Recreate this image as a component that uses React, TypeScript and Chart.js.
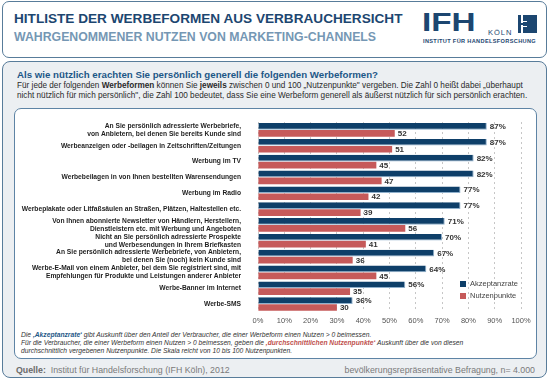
import React, { useEffect, useRef } from "react";
import { Chart, registerables } from "chart.js";

Chart.register(...registerables);

const categories: (string | string[])[] = [
  ["An Sie persönlich adressierte Werbebriefe,", "von Anbietern, bei denen Sie bereits Kunde sind"],
  "Werbeanzeigen oder -beilagen in Zeitschriften/Zeitungen",
  "Werbung im TV",
  "Werbebeilagen in von Ihnen bestellten Warensendungen",
  "Werbung im Radio",
  "Werbeplakate oder Litfaßsäulen an Straßen, Plätzen, Haltestellen etc.",
  ["Von Ihnen abonnierte Newsletter von Händlern, Herstellern,", "Dienstleistern etc. mit Werbung und Angeboten"],
  ["Nicht an Sie persönlich adressierte Prospekte", "und Werbesendungen in Ihrem Briefkasten"],
  ["An Sie persönlich adressierte Werbebriefe, von Anbietern,", "bei denen Sie (noch) kein Kunde sind"],
  ["Werbe-E-Mail von einem Anbieter, bei dem Sie registriert sind, mit", "Empfehlungen für Produkte und Leistungen anderer Anbieter"],
  "Werbe-Banner im Internet",
  "Werbe-SMS",
];

const akzeptanzrate = [87, 87, 82, 82, 77, 77, 71, 70, 67, 64, 56, 36];
const nutzenpunkte = [52, 51, 45, 47, 42, 39, 56, 41, 36, 45, 35, 30];

const seriesNames = ["Akzeptanzrate", "Nutzenpunkte"];
const xTicks = [0, 10, 20, 30, 40, 50, 60, 70, 80, 90, 100];

const NAVY = "#0e3f69";
const RED = "#c65a5a";
const FONT = '"Liberation Sans", Arial, Helvetica, sans-serif';

const valueLabels = {
  id: "valueLabels",
  afterDatasetsDraw(chart: any) {
    const ctx = chart.ctx;
    chart.data.datasets.forEach((ds: any, di: number) => {
      const meta = chart.getDatasetMeta(di);
      meta.data.forEach((bar: any, i: number) => {
        const v = ds.data[i];
        ctx.save();
        ctx.font = `bold 8px ${FONT}`;
        ctx.fillStyle = "#333";
        ctx.textBaseline = "middle";
        ctx.textAlign = "left";
        ctx.fillText(di === 0 ? `${v}%` : String(v), bar.x + 3, bar.y + 0.5);
        ctx.restore();
      });
    });
  },
};

function BarChart() {
  const ref = useRef<HTMLCanvasElement | null>(null);
  useEffect(() => {
    if (!ref.current) return;
    const chart = new Chart(ref.current, {
      type: "bar",
      data: {
        labels: categories,
        datasets: [
          {
            label: seriesNames[0],
            data: akzeptanzrate,
            backgroundColor: NAVY,
            borderColor: "#8fb0cc",
            borderWidth: { top: 0, right: 1, bottom: 1, left: 0 },
            borderSkipped: false,
            categoryPercentage: 0.88,
            barPercentage: 0.96,
          },
          {
            label: seriesNames[1],
            data: nutzenpunkte,
            backgroundColor: RED,
            borderWidth: 0,
            categoryPercentage: 0.88,
            barPercentage: 0.96,
          },
        ],
      },
      options: {
        indexAxis: "y",
        responsive: false,
        animation: false,
        layout: { padding: { top: 6, right: 14, bottom: 0, left: 0 } },
        plugins: {
          legend: { display: false },
          tooltip: { enabled: false },
        },
        scales: {
          x: {
            min: 0,
            max: 100,
            afterBuildTicks: (scale: any) => {
              scale.ticks = xTicks.map((v) => ({ value: v }));
            },
            afterFit: (scale: any) => {
              scale.height = 16;
            },
            ticks: {
              callback: (v: any) => `${v}%`,
              font: { family: FONT, size: 7.5 },
              color: "#555",
              padding: 4,
              maxRotation: 0,
            },
            grid: { color: "#b8b8b8", lineWidth: 0.8, drawTicks: false },
            border: { display: false, dash: [2, 3] },
          },
          y: {
            afterFit: (scale: any) => {
              scale.width = 243;
            },
            ticks: {
              font: { family: FONT, size: 6.7, weight: "bold", lineHeight: 1.2 },
              color: "#1e1e1e",
              padding: 9,
              autoSkip: false,
            },
            grid: { display: false },
            border: { display: false },
          },
        },
      },
      plugins: [valueLabels],
    } as any);
    return () => chart.destroy();
  }, []);
  return (
    <canvas
      ref={ref}
      width={520}
      height={220}
      style={{ position: "absolute", left: 15, top: 109, width: 520, height: 220 }}
    />
  );
}

const abs = (s: React.CSSProperties): React.CSSProperties => ({
  position: "absolute",
  whiteSpace: "nowrap",
  ...s,
});

export default function App() {
  return (
    <div
      style={{
        position: "absolute",
        left: 0,
        top: 0,
        width: 550,
        height: 380,
        background: "#ffffff",
        fontFamily: FONT,
        overflow: "hidden",
      }}
    >
      {/* Header box */}
      <div
        style={abs({
          left: 2,
          top: 1,
          width: 543,
          height: 55,
          border: "1.5px solid #587c9a",
          borderRadius: 7,
          background: "#fff",
        })}
      />
      <div style={abs({ left: 14, top: 11, fontSize: 13.6, fontWeight: "bold", color: "#1c4670" })}>
        HITLISTE DER WERBEFORMEN AUS VERBRAUCHERSICHT
      </div>
      <div style={abs({ left: 14, top: 30, fontSize: 12.3, fontWeight: "bold", color: "#7597b4" })}>
        WAHRGENOMMENER NUTZEN VON MARKETING-CHANNELS
      </div>
      {/* Logo */}
      <div
        style={abs({
          left: 422,
          top: 9,
          fontSize: 26,
          fontWeight: 900,
          color: "#1c4670",
          lineHeight: "26px",
          transform: "scaleX(1.28)",
          transformOrigin: "left top",
        })}
      >
        IFH
      </div>
      <div style={abs({ left: 488, top: 28, fontSize: 7.5, color: "#1c4670", letterSpacing: 1 })}>KÖLN</div>
      <div style={abs({ left: 518, top: 15, width: 3, height: 18, background: "#1c4670" })} />
      <div style={abs({ left: 523, top: 15, width: 14, height: 18, background: "#1c4670" })} />
      <div style={abs({ left: 521, top: 23, width: 6, height: 2, background: "#1c4670" })} />
      <div style={abs({ left: 523, top: 21, width: 4, height: 1, background: "#fff" })} />
      <div style={abs({ left: 523, top: 26, width: 4, height: 1, background: "#fff" })} />
      <div
        style={abs({
          left: 423,
          top: 38,
          fontSize: 5.6,
          fontWeight: "bold",
          color: "#1c4670",
          letterSpacing: 0.35,
        })}
      >
        INSTITUT FÜR HANDELSFORSCHUNG
      </div>

      {/* Main box */}
      <div
        style={abs({
          left: 2,
          top: 61,
          width: 543,
          height: 315,
          border: "1.5px solid #587c9a",
          borderRadius: 8,
          background: "#eceff2",
        })}
      />
      <div style={abs({ left: 17, top: 69, fontSize: 9.7, fontWeight: "bold", color: "#1d5787" })}>
        Als wie nützlich erachten Sie persönlich generell die folgenden Werbeformen?
      </div>
      <div style={abs({ left: 17, top: 80.5, fontSize: 8.2, color: "#2a2a2a", lineHeight: "10px" })}>
        Für jede der folgenden <b>Werbeformen</b> können Sie <b>jeweils</b> zwischen 0 und 100 „Nutzenpunkte" vergeben. Die Zahl 0 heißt dabei „überhaupt
        <br />
        nicht nützlich für mich persönlich", die Zahl 100 bedeutet, dass Sie eine Werbeform generell als äußerst nützlich für sich persönlich erachten.
      </div>

      {/* Inner white box */}
      <div
        style={abs({
          left: 14,
          top: 108,
          width: 521,
          height: 249,
          border: "1px solid #5e84a5",
          borderRadius: 7,
          background: "#fff",
        })}
      />

      <BarChart />

      {/* Legend */}
      <div style={abs({ left: 460, top: 281, width: 6, height: 6, background: NAVY })} />
      <div style={abs({ left: 470, top: 279, fontSize: 7.5, color: "#444" })}>{seriesNames[0]}</div>
      <div style={abs({ left: 460, top: 293, width: 6, height: 6, background: RED })} />
      <div style={abs({ left: 470, top: 291, fontSize: 7.5, color: "#444" })}>{seriesNames[1]}</div>

      {/* Footnotes */}
      <div style={abs({ left: 21, top: 331, fontSize: 6.7, fontStyle: "italic", color: "#333" })}>
        Die <b style={{ color: "#1d5787" }}>‚Akzeptanzrate‘</b> gibt Auskunft über den Anteil der Verbraucher, die einer Werbeform einen Nutzen &gt; 0 beimessen.
      </div>
      <div style={abs({ left: 21, top: 339, fontSize: 6.7, fontStyle: "italic", color: "#333", lineHeight: "7.5px" })}>
        Für die Verbraucher, die einer Werbeform einen Nutzen &gt; 0 beimessen, geben die{" "}
        <b style={{ color: "#c0504d" }}>‚durchschnittlichen Nutzenpunkte‘</b> Auskunft über die von diesen
        <br />
        durchschnittlich vergebenen Nutzenpunkte. Die Skala reicht von 10 bis 100 Nutzenpunkten.
      </div>

      {/* Source */}
      <div style={abs({ left: 16, top: 365, fontSize: 8.8, color: "#7a7a7a" })}>
        <b style={{ color: "#6a6a6a" }}>Quelle:</b>&nbsp; Institut für Handelsforschung (IFH Köln), 2012
      </div>
      <div style={abs({ right: 15, top: 365, fontSize: 8.8, color: "#7a7a7a" })}>
        bevölkerungsrepräsentative Befragung, n= 4.000
      </div>
    </div>
  );
}
